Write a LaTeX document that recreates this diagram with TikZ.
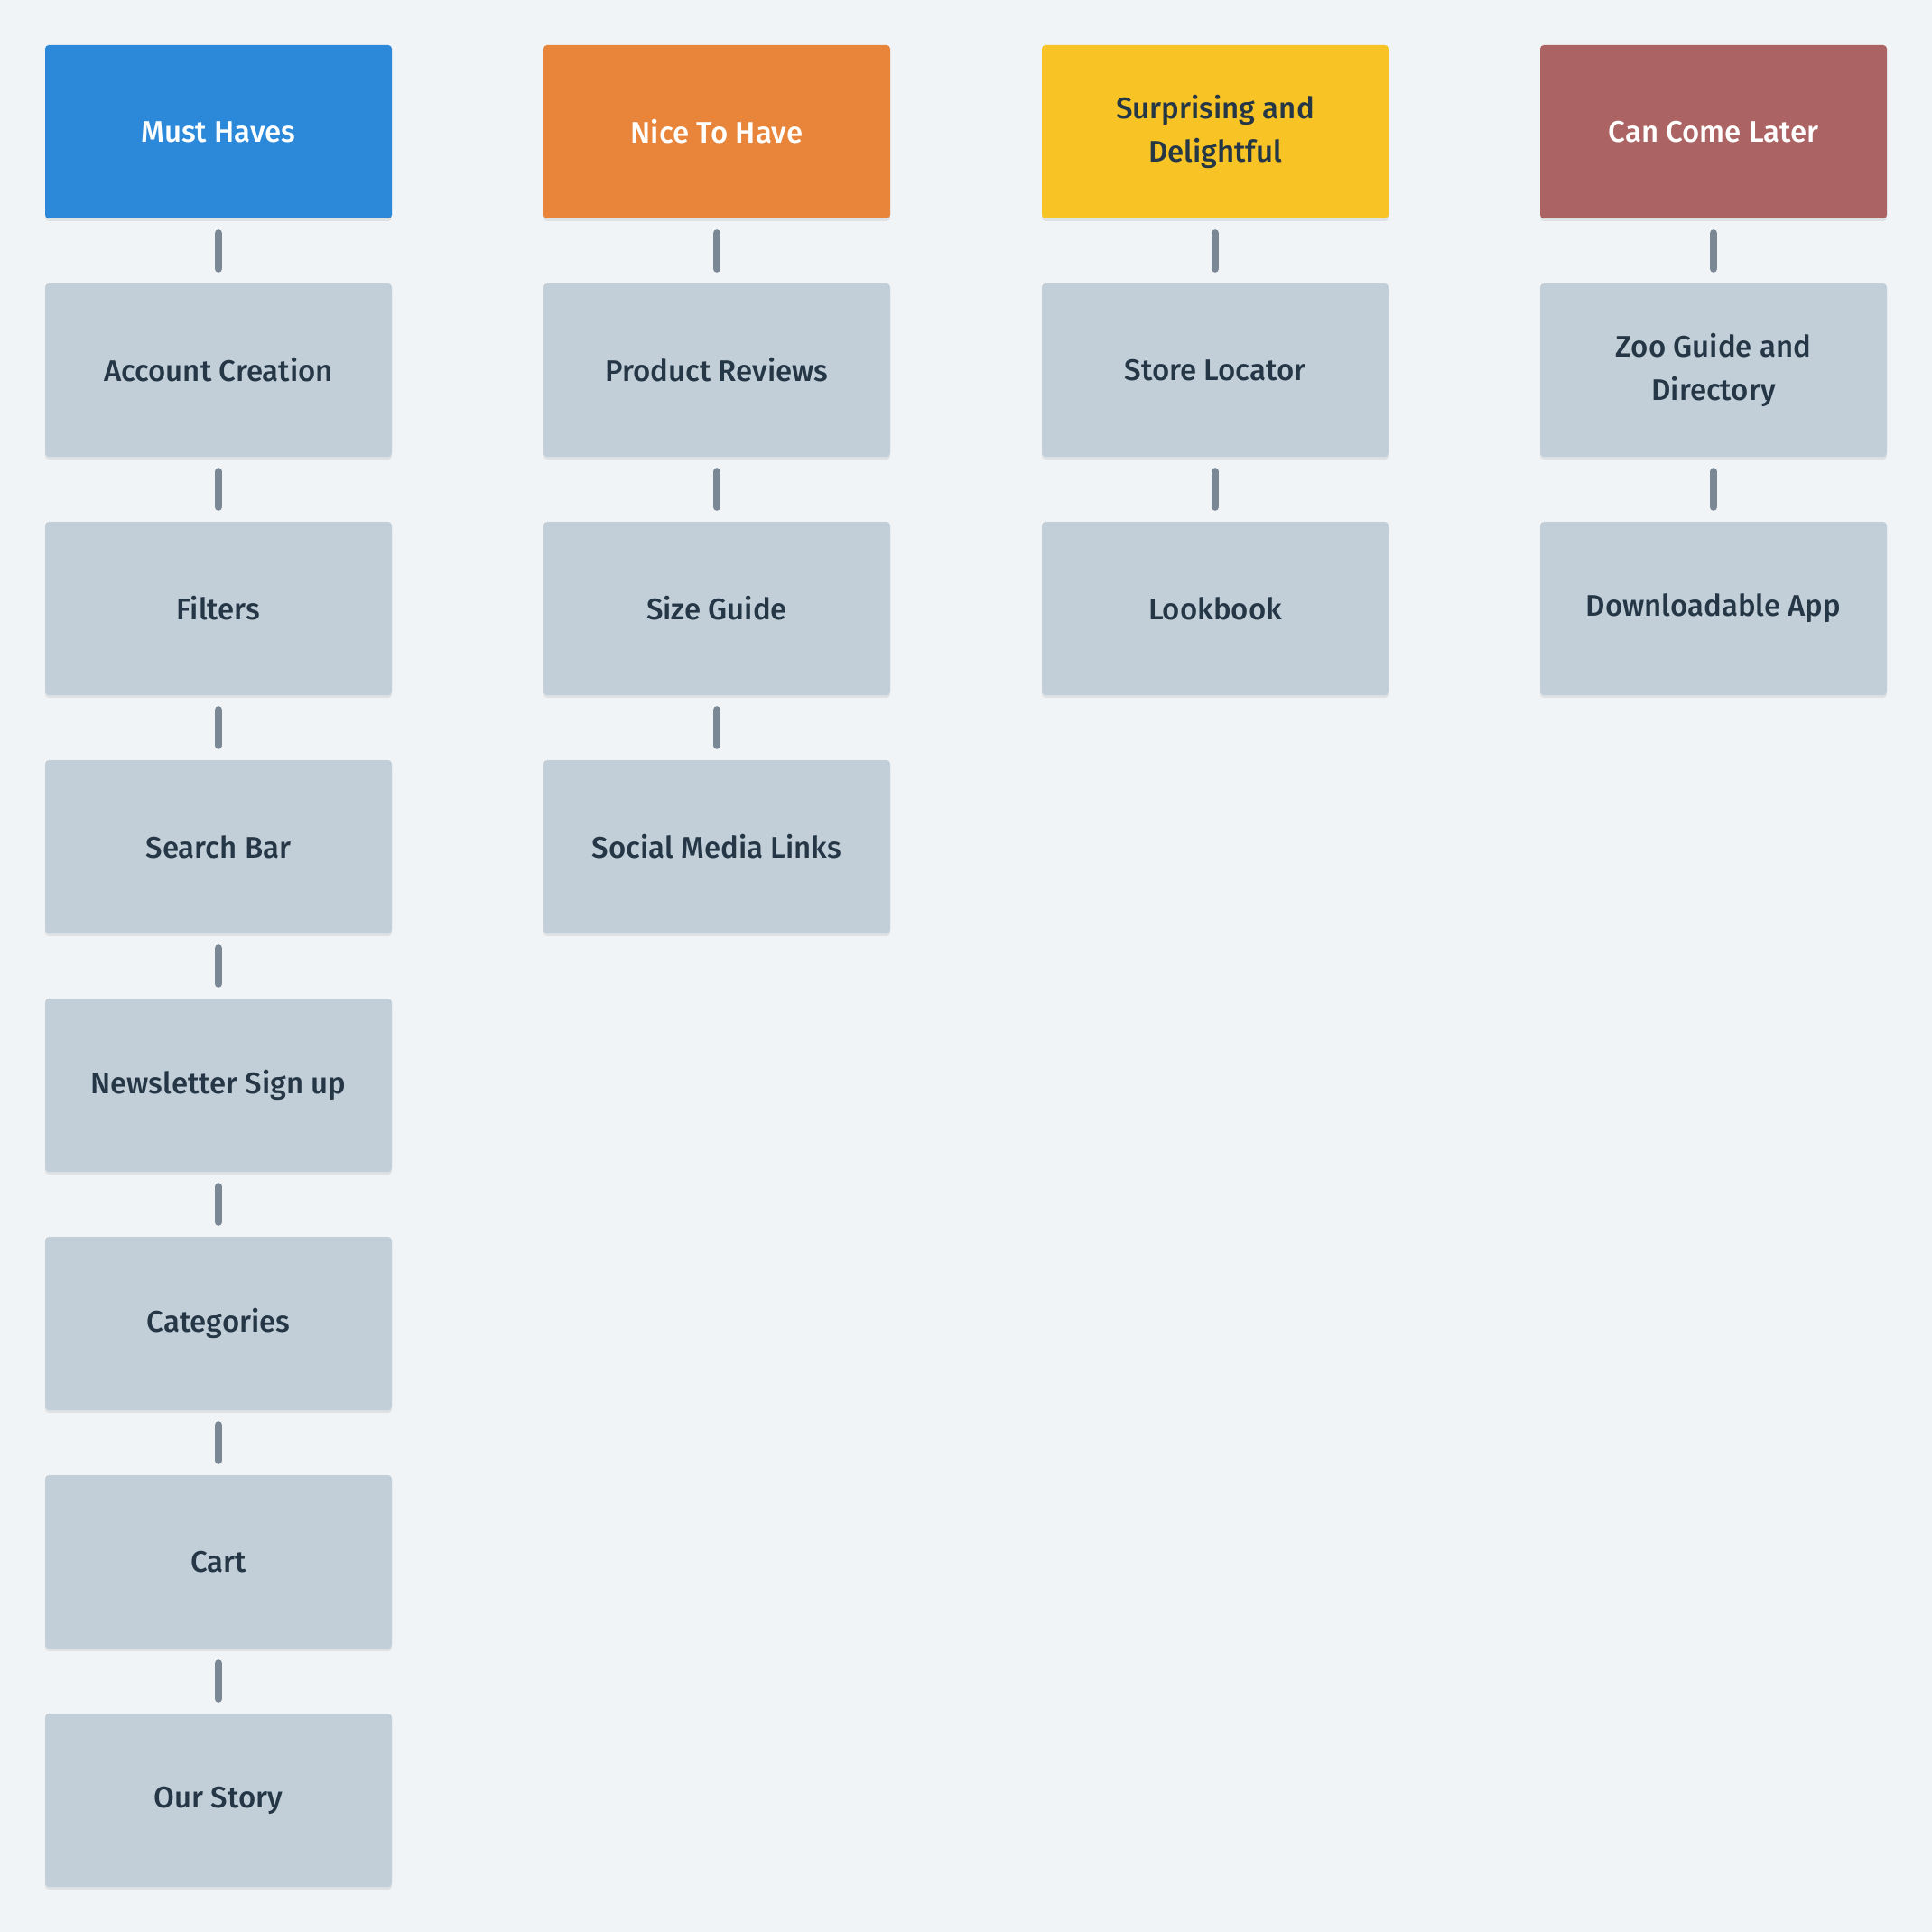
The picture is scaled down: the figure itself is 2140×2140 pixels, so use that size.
\documentclass[tikz,border=0pt]{standalone}
\usepackage{fontspec}
\setmainfont{Fira Sans}[UprightFont=* Medium]
\usetikzlibrary{shadows}
\definecolor{bg}{HTML}{F0F4F7}
\definecolor{cblue}{HTML}{2C89DA}
\definecolor{corange}{HTML}{E8853B}
\definecolor{cyellow}{HTML}{F7C325}
\definecolor{cred}{HTML}{AB6363}
\definecolor{cgray}{HTML}{C3CFD8}
\definecolor{cline}{HTML}{7A8794}
\definecolor{ctext}{HTML}{253746}
\tikzset{
  x=1pt, y=-1pt,
  card/.style={rectangle, rounded corners=4pt, minimum width=384pt, minimum height=192pt,
    inner sep=0pt, align=center, font=\fontsize{33}{48}\selectfont, text=ctext,
    drop shadow={shadow xshift=0pt, shadow yshift=-3pt, opacity=0.07, fill=black}},
  item/.style={card, fill=cgray},
  head/.style={card, text=white},
  conn/.style={draw=cline, line width=8pt, line cap=round},
}
\begin{document}
\begin{tikzpicture}
\fill[bg] (0,0) rectangle (2140,2140);
\useasboundingbox (0,0) rectangle (2140,2140);
% column 0
\node[head, fill=cblue] (a0) at (242,146) {Must Haves};
\node[item] (a1) at (242,410) {Account Creation};
\node[item] (a2) at (242,674) {Filters};
\node[item] (a3) at (242,938) {Search Bar};
\node[item] (a4) at (242,1202) {Newsletter Sign up};
\node[item] (a5) at (242,1466) {Categories};
\node[item] (a6) at (242,1730) {Cart};
\node[item] (a7) at (242,1994) {Our Story};
% column 1
\node[head, fill=corange] (b0) at (794,146) {Nice To Have};
\node[item] (b1) at (794,410) {Product Reviews};
\node[item] (b2) at (794,674) {Size Guide};
\node[item] (b3) at (794,938) {Social Media Links};
% column 2
\node[head, fill=cyellow, text=ctext] (c0) at (1346,146) {Surprising and\\Delightful};
\node[item] (c1) at (1346,410) {Store Locator};
\node[item] (c2) at (1346,674) {Lookbook};
% column 3
\node[head, fill=cred] (d0) at (1898,146) {Can Come Later};
\node[item] (d1) at (1898,410) {Zoo Guide and\\Directory};
\node[item] (d2) at (1898,674) {Downloadable App};
% connectors
\foreach \p/\q in {a0/a1,a1/a2,a2/a3,a3/a4,a4/a5,a5/a6,a6/a7,b0/b1,b1/b2,b2/b3,c0/c1,c1/c2,d0/d1,d1/d2}
  \draw[conn] ([yshift=-16pt]\p.south) -- ([yshift=16pt]\q.north);
\end{tikzpicture}
\end{document}
